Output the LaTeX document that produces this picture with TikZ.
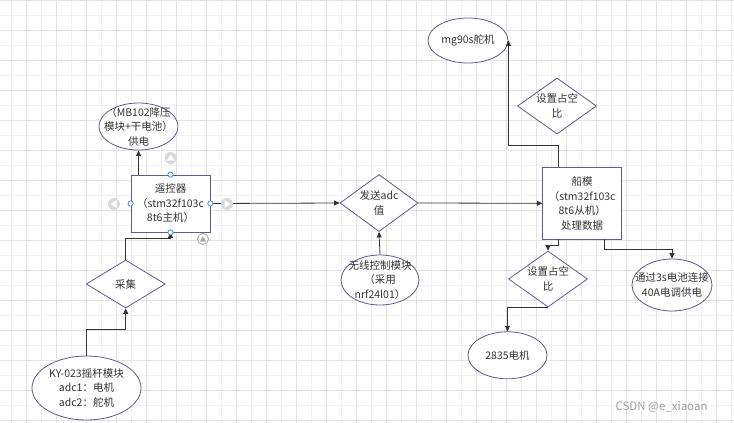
\documentclass[tikz,border=0pt]{standalone}
\usepackage{fontspec}
\setmainfont{Noto Sans CJK SC}
\usetikzlibrary{shapes.geometric,arrows.meta}
\definecolor{gridminor}{HTML}{F1F1F1}
\definecolor{gridmajor}{HTML}{E3E3E3}
\definecolor{edge}{HTML}{5B5E86}
\definecolor{wire}{HTML}{333333}
\definecolor{txt}{HTML}{333333}
\definecolor{handle}{HTML}{4A90E2}
\definecolor{hint}{HTML}{D9D9D9}
\definecolor{hintring}{HTML}{A8A8A8}
\definecolor{mark}{HTML}{A0A0A0}

\begin{document}
\begin{tikzpicture}[x=1pt,y=-1pt,
  lbl/.style={font=\fontsize{10.5}{14.5}\selectfont, text=txt, align=center, inner sep=0pt},
  shp/.style={draw=edge, line width=0.8pt, fill=white, inner sep=0pt},
  box/.style={shp, rectangle},
  oval/.style={shp, ellipse},
  decide/.style={shp, diamond},
  arr/.style={draw=wire, line width=0.8pt, -{Triangle[length=5.5pt,width=5pt]}},
  grab/.style={circle, draw=handle, fill=white, line width=0.8pt, minimum size=5.2pt, inner sep=0pt},
  hintdot/.style={circle, fill=hint, minimum size=12pt, inner sep=0pt},
]
% canvas and grid
\fill[white] (0,0) rectangle (734,423);
\useasboundingbox (0,0) rectangle (734,423);
\foreach \x in {11.7,41.7,...,731.7} \draw[gridminor, line width=0.8pt] (\x,0) -- (\x,423);
\foreach \y in {15.7,45.7,...,420.7} \draw[gridminor, line width=0.8pt] (0,\y) -- (734,\y);
\foreach \x in {26.7,56.7,...,731.7} \draw[gridmajor, line width=0.8pt] (\x,0) -- (\x,423);
\foreach \y in {0.7,30.7,...,420.7} \draw[gridmajor, line width=0.8pt] (0,\y) -- (734,\y);

% shapes
\node[box, minimum width=79pt, minimum height=57pt] (rc) at (170.5,203.5) {};
\node[oval, minimum width=79pt, minimum height=47pt] (pw) at (138.5,126.5) {};
\node[decide, minimum width=79pt, minimum height=48pt] (cj) at (125.7,284) {};
\node[oval, minimum width=109pt, minimum height=64pt] (ky) at (86.5,388) {};
\node[decide, minimum width=78pt, minimum height=57pt] (fs) at (379,203) {};
\node[oval, minimum width=78pt, minimum height=50pt] (wx) at (380,280) {};
\node[box, minimum width=79pt, minimum height=72pt] (cm) at (582.2,203.3) {};
\node[oval, minimum width=80pt, minimum height=45pt] (mg) at (468,40.5) {};
\node[decide, minimum width=79pt, minimum height=56pt] (dz1) at (557,106) {};
\node[decide, minimum width=79pt, minimum height=56pt] (dz2) at (548,279) {};
\node[oval, minimum width=79pt, minimum height=47pt] (mt) at (507.5,355.3) {};
\node[oval, minimum width=80pt, minimum height=52pt] (bat) at (672,285) {};

% texts
\node[lbl] (rct) at (rc) {遥控器\\（stm32f103c\\8t6主机）};
\node[lbl] (pwt) at (pw) {（MB102降压\\模块+干电池）\\供电};
\node[lbl] (cjt) at (cj) {采集};
\node[lbl] (kyt) at (ky) {KY-023摇杆模块\\adc1：电机\\adc2：舵机};
\node[lbl] (fst) at (fs) {发送adc\\值};
\node[lbl] (wxt) at (wx) {无线控制模块\\（采用\\nrf24l01）};
\node[lbl] (cmt) at (cm) {船模\\（stm32f103c\\8t6从机）\\处理数据};
\node[lbl] (mgt) at (mg) {mg90s舵机};
\node[lbl] (dz1t) at (dz1) {设置占空\\比};
\node[lbl] (dz2t) at (dz2) {设置占空\\比};
\node[lbl] (mtt) at (mt) {2835电机};
\node[lbl] (batt) at (bat) {通过3s电池连接\\40A电调供电};

% connectors
\coordinate (j1) at (170.5,238.3);
\coordinate (j2) at (125.7,329.3);
\coordinate (c1) at (558,167.3);
\coordinate (j3) at (558,145);
\coordinate (c2) at (558,239.3);
\coordinate (c3) at (604,239.3);
\draw[arr] (pw.south |- rc.north) -- (pw.south);
\draw[arr] (rc.east) -- (fs.west);
\draw[arr] (fs.east) -- (cm.west);
\draw[arr] (wx.north) -- (fs.south);
\draw[arr] (cj.north) |- (j1) -- (rc.south);
\draw[arr] (ky.north) |- (j2) -- (cj.south);
\draw[arr] (c1) -- (j3) -| (mg.east);
\draw[arr] (c2) -- ++(0,6) -| (dz2.north);
\draw[arr] (dz2.south) -| (mt.north);
\draw[arr] (c3) -- ++(0,10) -| (bat.north);

% selection handles on the remote box
\node[grab] (hn) at (rc.north) {};
\node[grab] (hw) at (rc.west) {};
\node[grab] (he) at (rc.east) {};
\node[grab] (hs) at (rc.south) {};
\node[hintdot] (qn) at (170.7,158) {};
\node[hintdot] (qw) at (114,204) {};
\node[hintdot] (qe) at (227,204) {};
\node[circle, draw=hintring, fill=white, line width=0.9pt, minimum size=11pt, inner sep=0pt] (qs) at (203,239) {};
\fill[white] (166.7,160.5) -- (174.7,160.5) -- (170.7,154.5) -- cycle;
\fill[white] (116.5,200) -- (116.5,208) -- (110.5,204) -- cycle;
\fill[white] (224.5,200) -- (224.5,208) -- (230.5,204) -- cycle;
\fill[hintring] (199.8,241.5) -- (206.2,241.5) -- (203,236.3) -- cycle;

% watermark
\node[font=\fontsize{11.5}{13}\selectfont, text=mark, inner sep=0pt] (wm) at (661.5,407) {CSDN @e\_xiaoan};
\end{tikzpicture}
\end{document}
